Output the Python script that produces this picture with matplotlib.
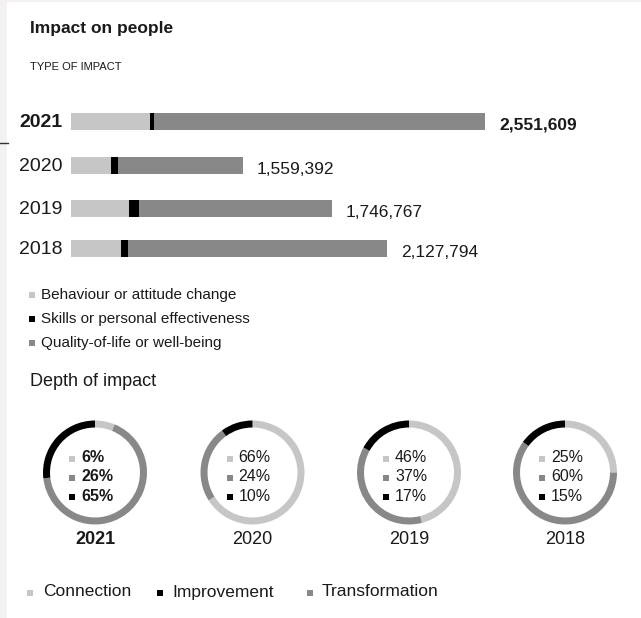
import matplotlib
matplotlib.use("Agg")
import matplotlib.pyplot as plt
from matplotlib.patches import Rectangle

plt.rcParams['font.family'] = ['Liberation Sans', 'DejaVu Sans']

# 数据
years = ["2021", "2020", "2019", "2018"]
behaviour = [487000, 246000, 357000, 308000]      # 浅灰
skills = [25000, 43000, 62000, 43000]             # 黑
quality = [2040000, 770000, 1190000, 1596000]     # 深灰
totals = [2551609, 1559392, 1746767, 2127794]

type_labels = ["Behaviour or attitude change", "Skills or personal effectiveness",
               "Quality-of-life or well-being"]

# 环形图里的文字
depth_light = ["6%", "66%", "46%", "25%"]
depth_mid = ["26%", "24%", "37%", "60%"]
depth_dark = ["65%", "10%", "17%", "15%"]
# 环形图的扇区(顺时针: 浅灰, 深灰, 黑)
ring_light = [6, 66, 46, 25]
ring_dark = [65, 24, 37, 60]
ring_black = [26, 10, 17, 15]

depth_legend = ["Connection", "Improvement", "Transformation"]

LIGHT = "#c6c6c6"
DARK = "#888888"
BLACK = "#000000"
TXT = "#1a1a1a"

W, H = 641, 618
fig = plt.figure(figsize=(W / 100, H / 100), dpi=100)

# 像素坐标的覆盖层
ov = fig.add_axes([0, 0, 1, 1])
ov.set_xlim(0, W)
ov.set_ylim(H, 0)
ov.axis("off")
ov.add_patch(Rectangle((0, 0), 7, H, color="#f3f2f0", lw=0))
ov.add_patch(Rectangle((0, 0), W, 2, color="#f3f2f0", lw=0))
ov.plot([0, 8], [143, 143], color="#333333", lw=1)

ov.text(30, 29, "Impact on people", fontsize=12.5, fontweight="bold", color=TXT, va="center")
ov.text(30, 67, "TYPE OF IMPACT", fontsize=8, color=TXT, va="center")

# 条形图
k = 2551609 / 414  # 每像素的数值
ax = fig.add_axes([0, 0, 1, 1], facecolor="none")
ax.set_xlim(-71 * k, (W - 71) * k)
ax.set_ylim(H, 0)
ax.axis("off")
bar_y = [121.5, 165.5, 208.5, 248.5]
for i, y in enumerate(bar_y):
    ax.barh(y, behaviour[i], height=17, color=LIGHT, lw=0)
    ax.barh(y, skills[i], left=behaviour[i], height=17, color=BLACK, lw=0)
    ax.barh(y, quality[i], left=behaviour[i] + skills[i], height=17, color=DARK, lw=0)
    end = behaviour[i] + skills[i] + quality[i]
    bold = "bold" if i == 0 else "normal"
    ax.text(-9 * k, y + 1, years[i], fontsize=14, fontweight=bold, color=TXT,
            ha="right", va="center")
    ax.text(end + 14 * k, y + 4, f"{totals[i]:,}", fontsize=12.5, fontweight=bold,
            color=TXT, ha="left", va="center")

# 类型图例
for j, (lab, c) in enumerate(zip(type_labels, [LIGHT, BLACK, DARK])):
    yy = 295 + j * 24
    ov.add_patch(Rectangle((29, yy - 3), 6, 6, color=c, lw=0))
    ov.text(41, yy, lab, fontsize=11, color=TXT, va="center")

ov.text(30, 381, "Depth of impact", fontsize=13, color=TXT, va="center")

# 环形图
cxs = [95, 252.5, 409, 565]
cy, r = 472.5, 52
for i, cx in enumerate(cxs):
    dax = fig.add_axes([(cx - r) / W, 1 - (cy + r) / H, 2 * r / W, 2 * r / H])
    dax.pie([ring_light[i], ring_dark[i], ring_black[i]], colors=[LIGHT, DARK, BLACK],
            startangle=90, counterclock=False, radius=1,
            wedgeprops=dict(width=0.135, linewidth=0))
    dax.set_xlim(-1, 1)
    dax.set_ylim(-1, 1)
    dax.set_aspect("equal")
    bold = "bold" if i == 0 else "normal"
    for j, (lab, c) in enumerate(zip([depth_light[i], depth_mid[i], depth_dark[i]],
                                     [LIGHT, DARK, BLACK])):
        yy = 457.5 + j * 19.3
        ov.add_patch(Rectangle((cx - 26, yy - 2), 6, 6, color=c, lw=0))
        ov.text(cx - 14, yy, lab, fontsize=11.5, fontweight=bold, color=TXT, va="center")
    ov.text(cx, 540, years[i], fontsize=13, fontweight=bold, color=TXT,
            ha="center", va="center")

# 深度图例
for lab, c, sx, tx in zip(depth_legend, [LIGHT, BLACK, DARK], [27, 157, 307], [43, 172, 322]):
    ov.add_patch(Rectangle((sx, 590), 6, 6, color=c, lw=0))
    ov.text(tx, 592, lab, fontsize=12.5, color=TXT, va="center")

fig.savefig("out.png", dpi=100)
